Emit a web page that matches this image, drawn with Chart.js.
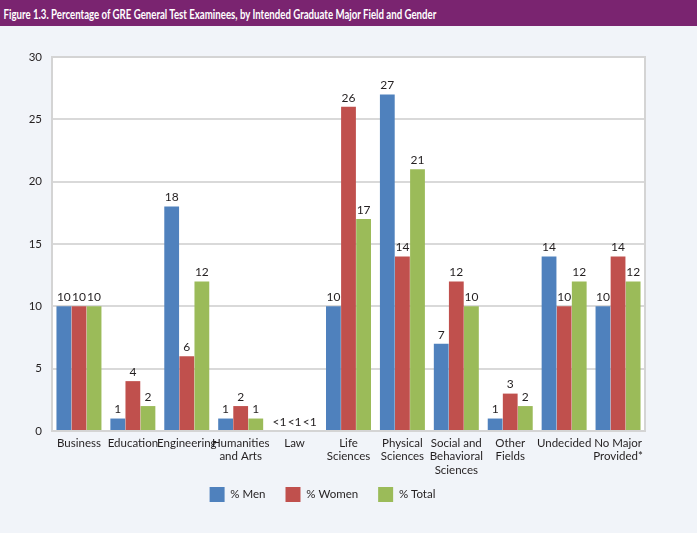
<!DOCTYPE html>
<html>
<head>
<meta charset="utf-8">
<script src="https://cdn.jsdelivr.net/npm/chart.js@4"></script>
<style>
  body { margin: 0; background: #f1f4f9; width: 697px; height: 533px; overflow: hidden; }
  .header { height: 26px; background: #7a2470; overflow: hidden; }
  .header span { display: inline-block; color: #fff; font-family: Lato, sans-serif; font-weight: bold; font-size: 13.5px; line-height: 28px; padding-left: 5px; white-space: nowrap; transform: scaleX(0.715); transform-origin: 0 0; }
  .wrap { position: relative; width: 697px; height: 507px; }
</style>
</head>
<body>
<div class="header"><span>Figure 1.3. Percentage of GRE General Test Examinees, by Intended Graduate Major Field and Gender</span></div>
<div class="wrap"><canvas id="grechart"></canvas></div>
<script>
// categories (multi-line labels)
const fields = [
  'Business',
  'Education',
  'Engineering',
  ['Humanities', 'and Arts'],
  'Law',
  ['Life', 'Sciences'],
  ['Physical', 'Sciences'],
  ['Social and', 'Behavioral', 'Sciences'],
  ['Other', 'Fields'],
  'Undecided',
  ['No Major', 'Provided*']
]

// percent values, law is "<1" so kept as 0
const men   = [10, 1, 18, 1, 0, 10, 27, 7, 1, 14, 10]
const women = [10, 4, 6, 2, 0, 26, 14, 12, 3, 10, 14]
const total = [10, 2, 12, 1, 0, 17, 21, 10, 2, 12, 12]

const yTicks = [0, 5, 10, 15, 20, 25, 30]

const fontFam = 'Lato, "Open Sans", sans-serif'

// white plot area + border
const areaPlugin = {
  id: 'area',
  beforeDraw(chart){
    const {ctx, chartArea: a} = chart
    ctx.save()
    ctx.fillStyle = '#ffffff'
    ctx.fillRect(a.left, a.top, a.right - a.left, a.bottom - a.top)
    ctx.restore()
  },
  afterDraw(chart){
    const {ctx, chartArea: a} = chart
    ctx.save()
    ctx.strokeStyle = '#d4d4d4'
    ctx.lineWidth = 2
    ctx.strokeRect(a.left, a.top, a.right - a.left, a.bottom - a.top)
    ctx.restore()
  }
}

// value labels above the bars
const labelPlugin = {
  id: 'barLabels',
  afterDatasetsDraw(chart){
    const ctx = chart.ctx
    ctx.save()
    ctx.font = '12px ' + fontFam
    ctx.fillStyle = '#231f20'
    ctx.textAlign = 'center'
    ctx.textBaseline = 'bottom'
    chart.data.datasets.forEach((ds, i) => {
      chart.getDatasetMeta(i).data.forEach((bar, j) => {
        const v = ds.data[j]
        ctx.fillText(v < 1 ? '<1' : String(v), bar.x, bar.y - 3)
      })
    })
    ctx.restore()
  }
}

new Chart(document.getElementById('grechart'), {
  type: 'bar',
  data: {
    labels: fields,
    datasets: [
      { label: '% Men', data: men, backgroundColor: '#4f81bd' },
      { label: '% Women', data: women, backgroundColor: '#c0504d' },
      { label: '% Total', data: total, backgroundColor: '#9bbb59' }
    ]
  },
  options: {
    responsive: true,
    maintainAspectRatio: false,
    animation: false,
    layout: { padding: { top: 31, right: 52, bottom: 21, left: 0 } },
    datasets: { bar: { categoryPercentage: 0.84, barPercentage: 0.98 } },
    scales: {
      x: {
        grid: { display: false, drawTicks: false },
        border: { display: false },
        ticks: { color: '#231f20', font: { family: fontFam, size: 11.5, lineHeight: 1.2 }, maxRotation: 0, autoSkip: false, padding: 5 },
        afterFit(scale){
          scale.height = 36
          // let the 3-line labels run past the axis box
          scale._computeLabelArea = () => undefined
        }
      },
      y: {
        min: 0, max: 30,
        afterBuildTicks(scale){ scale.ticks = yTicks.map(v => ({ value: v })) },
        grid: { color: '#d9d9d9', lineWidth: 2, drawTicks: false },
        border: { display: false },
        ticks: { color: '#231f20', font: { family: fontFam, size: 11.5 }, padding: 10 },
        afterFit(scale){ scale.width = 52 }
      }
    },
    plugins: {
      tooltip: { enabled: false },
      legend: {
        position: 'bottom',
        labels: { color: '#231f20', font: { family: fontFam, size: 11.5 }, boxWidth: 15, boxHeight: 15, padding: 20 }
      }
    }
  },
  plugins: [areaPlugin, labelPlugin]
})
</script>
</body>
</html>
